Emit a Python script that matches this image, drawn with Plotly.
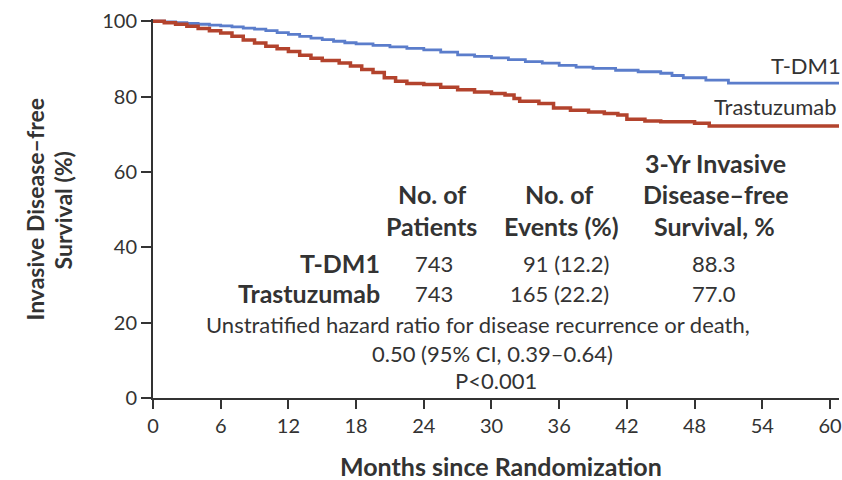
import plotly.graph_objects as go

# Kaplan-Meier estimates of invasive disease-free survival (%), by month
tdm1_months = [0, 1.0, 2.0, 3.0, 4.0, 5.0, 6.0, 7.0, 8.0, 9.0, 10.0, 11.0, 12.0, 13.0,
               14.0, 15.0, 16.0, 17.0, 18.0, 19.5, 21.0, 22.5, 24.0, 25.5, 27.0, 28.5,
               30.0, 31.5, 33.0, 34.5, 36.0, 37.5, 39.0, 41.0, 43.0, 45.0, 46.0, 47.0,
               49.0, 51.0, 60.8]
tdm1_surv = [100, 99.8, 99.6, 99.4, 99.2, 99.0, 98.8, 98.5, 98.2, 97.9, 97.5, 97.0, 96.5,
             96.0, 95.5, 95.1, 94.7, 94.3, 94.0, 93.6, 93.2, 92.8, 92.4, 91.8, 91.1, 90.7,
             90.3, 89.8, 89.3, 88.9, 88.3, 87.8, 87.5, 87.0, 86.6, 86.2, 85.6, 85.0, 84.4,
             83.6, 83.6]

trast_months = [0, 1.0, 2.0, 3.0, 4.0, 5.0, 6.0, 7.0, 8.0, 9.0, 10.0, 11.0, 12.0, 13.0,
                14.0, 15.0, 16.5, 17.5, 18.5, 19.5, 20.5, 21.5, 22.5, 24.0, 25.5, 27.0,
                28.5, 30.0, 31.2, 32.0, 32.5, 34.2, 35.5, 37.0, 38.6, 40.0, 41.2, 42.0,
                43.6, 45.0, 48.0, 49.3, 60.8]
trast_surv = [100, 99.6, 99.2, 98.7, 98.1, 97.5, 96.9, 96.0, 95.0, 94.2, 93.4, 92.7, 92.0,
              91.0, 90.2, 89.6, 88.9, 88.1, 87.2, 86.4, 85.0, 84.1, 83.5, 83.2, 82.5, 81.8,
              81.2, 80.8, 80.4, 79.5, 78.8, 78.2, 77.0, 76.4, 75.9, 75.5, 75.1, 74.0, 73.5,
              73.3, 72.9, 72.2, 72.2]

x_ticks = [0, 6, 12, 18, 24, 30, 36, 42, 48, 54, 60]
y_ticks = [0, 20, 40, 60, 80, 100]

groups = ["T-DM1", "Trastuzumab"]
n_patients = ["743", "743"]
n_events = ["91 (12.2)", "165 (22.2)"]
idfs_3yr = ["88.3", "77.0"]

BLUE = "#5b7dcb"
RED = "#b3432d"
INK = "#333333"
FONT = "Lato"

W, H = 842, 480
L, R, T, B = 153, 0, 19, 82
PW, PH = W - L - R, H - T - B


def px(x):
    return (x - L) / PW


def py(y):
    return (H - B - y) / PH


fig = go.Figure()
fig.add_trace(go.Scatter(x=tdm1_months, y=tdm1_surv, mode="lines", line_shape="hv",
                         line=dict(color=BLUE, width=2.8), name=groups[0]))
fig.add_trace(go.Scatter(x=trast_months, y=trast_surv, mode="lines", line_shape="hv",
                         line=dict(color=RED, width=3.5), name=groups[1]))

ann = []


def text(s, x, y, size=22, bold=False, anchor="center", angle=0, color=INK):
    ann.append(dict(text=f"<b>{s}</b>" if bold else s, x=px(x), y=py(y),
                    xref="paper", yref="paper", xanchor=anchor, yanchor="middle",
                    showarrow=False, textangle=angle,
                    font=dict(family=FONT, size=size, color=color)))


# curve labels
text("T-DM1", 772, 65, size=22, anchor="left")
text("Trastuzumab", 714, 106, size=22, anchor="left")

# summary table
BS = 25
text("No. of", 433, 194, size=BS, bold=True)
text("Patients", 433, 226, size=BS, bold=True)
text("No. of", 561, 194, size=BS, bold=True)
text("Events (%)", 563, 226, size=BS, bold=True)
text("3-Yr Invasive", 718, 163, size=BS, bold=True)
text("Disease\u2013free", 718, 194, size=BS, bold=True)
text("Survival, %", 717, 226, size=BS, bold=True)
for i, yy in enumerate([263, 293]):
    text(groups[i], 383, yy, size=BS, bold=True, anchor="right")
    text(n_patients[i], 435, yy)
    text(n_events[i], 613, yy, anchor="right")
    text(idfs_3yr[i], 716, yy)
text("Unstratified hazard ratio for disease recurrence or death,", 479, 324)
text("0.50 (95% CI, 0.39\u20130.64)", 494, 353)
text("P&lt;0.001", 497, 380)

# axis titles
text("Months since Randomization", 503, 466, size=25, bold=True)
text("Invasive Disease\u2013free", 34, 210, size=23, bold=True, angle=-90)
text("Survival (%)", 63, 210, size=23, bold=True, angle=-90)

fig.update_layout(
    width=W, height=H,
    margin=dict(l=L, r=R, t=T, b=B, pad=0),
    paper_bgcolor="white", plot_bgcolor="white",
    showlegend=False,
    annotations=ann,
    font=dict(family=FONT, size=20, color=INK),
)
fig.update_xaxes(range=[0, 60.8], tickvals=x_ticks, ticks="outside", ticklen=9,
                 tickwidth=2, tickcolor=INK, showline=True, linecolor=INK, linewidth=2,
                 showgrid=False, zeroline=False, ticklabeloverflow="allow",
                 tickfont=dict(size=20, color=INK))
fig.update_yaxes(range=[0, 100.6], tickvals=y_ticks, ticks="outside", ticklen=10,
                 tickwidth=2, tickcolor=INK, showline=True, linecolor=INK, linewidth=2,
                 showgrid=False, zeroline=False, tickfont=dict(size=20, color=INK))

fig.write_html("out.html")
